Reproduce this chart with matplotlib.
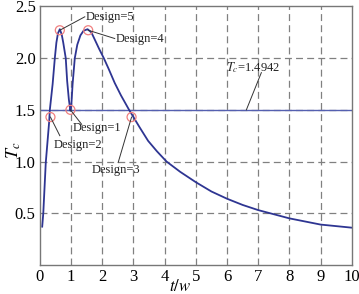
#!/usr/bin/env python3
"""Tc vs t/w curve with marked design points."""
import matplotlib
matplotlib.use("Agg")
import matplotlib.pyplot as plt

plt.rcParams.update({
    "font.family": "Liberation Serif",
    "mathtext.fontset": "stix",
    "font.size": 10,
    "lines.scale_dashes": False,
})

# curve
t_w = [0.075, 0.11, 0.19, 0.30, 0.32, 0.41, 0.48, 0.53, 0.58, 0.64, 0.70,
       0.75, 0.83, 0.875, 0.93, 0.98, 1.01, 1.05, 1.12, 1.20, 1.30, 1.40,
       1.53, 1.65, 1.76, 1.90, 2.05, 2.20, 2.40, 2.60, 2.86, 3.00, 3.20,
       3.47, 3.75, 4.06, 4.50, 5.00, 5.50, 6.00, 6.50, 7.00, 7.50, 8.00,
       8.50, 9.00, 9.50, 10.0]
tc = [0.37, 0.50, 0.99, 1.39, 1.50, 1.75, 2.00, 2.15, 2.24, 2.28, 2.23,
      2.15, 2.00, 1.78, 1.60, 1.49, 1.55, 1.75, 2.00, 2.13, 2.22, 2.265,
      2.28, 2.25, 2.18, 2.09, 2.00, 1.90, 1.76, 1.64, 1.50, 1.43, 1.33,
      1.20, 1.10, 1.00, 0.90, 0.80, 0.71, 0.64, 0.58, 0.53, 0.49, 0.45,
      0.42, 0.39, 0.375, 0.36]

tc_level = 1.4942

# design points (circles)
design_names = ["Design=1", "Design=2", "Design=3", "Design=4", "Design=5"]
design_t = [0.98, 0.34, 2.94, 1.55, 0.64]
design_tc = [1.50, 1.43, 1.43, 2.27, 2.27]

# label text anchor (left, center) and leader line end
label_t = [1.06, 0.43, 1.66, 2.42, 1.46]
label_tc = [1.32, 1.16, 0.92, 2.19, 2.40]
leader_end_t = [1.34, 0.64, 2.51, 2.40, 1.44]
leader_end_tc = [1.36, 1.25, 0.99, 2.19, 2.40]

fig = plt.figure(figsize=(3.59, 2.94), dpi=100)
ax = fig.add_axes([0.111, 0.099, 0.869, 0.879])

# grid
for x in range(1, 10):
    ax.axvline(x, color="#808080", lw=0.9, dashes=(5, 3), zorder=0)
for y in [0.5, 1.0, 1.5, 2.0]:
    ax.axhline(y, color="#808080", lw=0.9, dashes=(5, 3), zorder=0)

ax.axhline(tc_level, color="#5560b0", lw=1.0, zorder=1)
ax.plot(t_w, tc, color="#2e3592", lw=1.3, zorder=2)

ax.scatter(design_t, design_tc, s=42, facecolors="none",
           edgecolors="#f08080", linewidths=0.9, zorder=3)

for i, name in enumerate(design_names):
    ax.plot([design_t[i], leader_end_t[i]], [design_tc[i], leader_end_tc[i]],
            color="#333333", lw=0.7, zorder=3)
    ax.text(label_t[i], label_tc[i], name, ha="left", va="center",
            fontsize=9, color="#222222", zorder=4)

ax.plot([6.62, 7.10], [1.50, 1.86], color="#333333", lw=0.7, zorder=3)
ax.text(5.98, 1.91, r"$T_c$=1.4942", ha="left", va="center",
        fontsize=9, color="#222222", zorder=4)

ax.set_xlim(0, 10)
ax.set_ylim(0, 2.5)
ax.set_xticks(range(0, 11))
ax.set_yticks([0.5, 1.0, 1.5, 2.0, 2.5])
ax.set_yticklabels(["0.5", "1.0", "1.5", "2.0", "2.5"])
ax.tick_params(length=0, labelsize=12, pad=3)

for s in ax.spines.values():
    s.set_color("#777777")
    s.set_linewidth(1.0)

ax.set_xlabel(r"$t/w$", fontsize=12)
ax.xaxis.set_label_coords(0.45, -0.085)
ax.xaxis.label.set_va("center")
ax.set_ylabel(r"$T_c$", fontsize=13)
ax.yaxis.set_label_coords(-0.083, 0.445)
ax.yaxis.label.set_va("center")

fig.savefig("out.png", dpi=100)
